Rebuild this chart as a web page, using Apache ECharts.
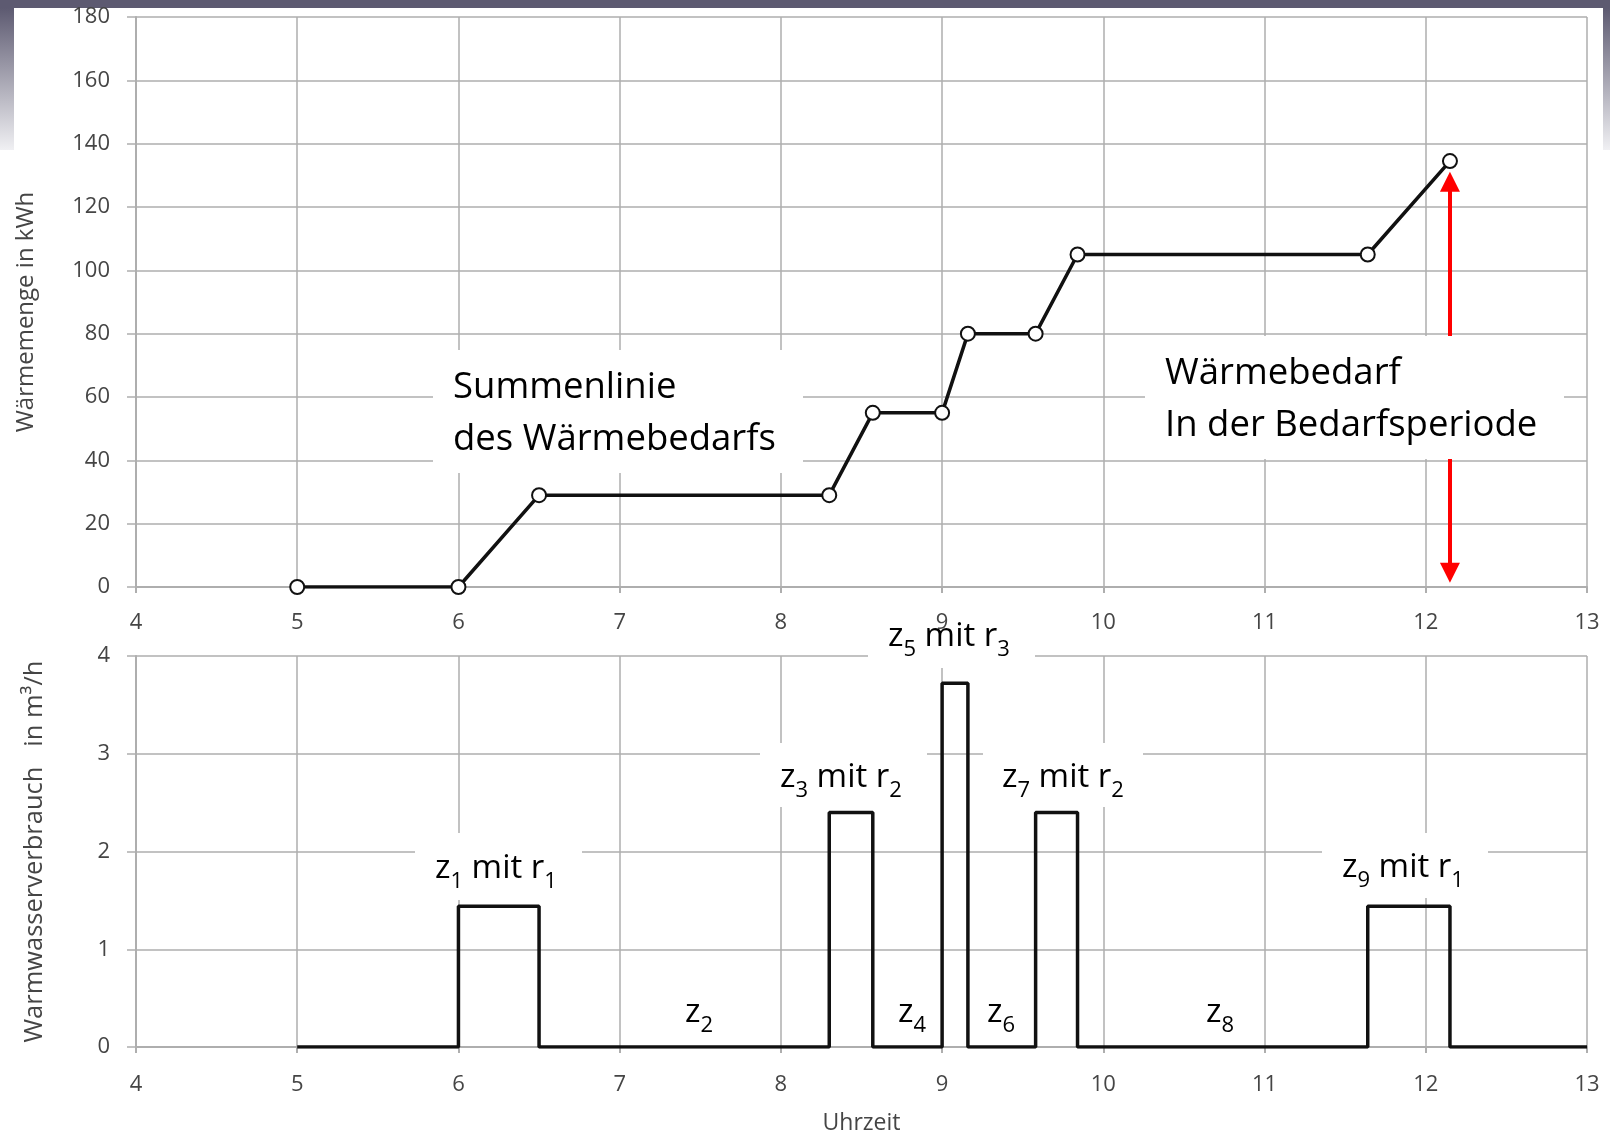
<!DOCTYPE html>
<html>
<head>
<meta charset="utf-8">
<script src="https://cdn.jsdelivr.net/npm/echarts@6/dist/echarts.min.js"></script>
<style>
html,body{margin:0;padding:0;background:#fff;}
#c{width:1610px;height:1136px;}
</style>
</head>
<body>
<div id="c"></div>
<script>
// ---- data ----
const timePoints = [5, 6, 6.5, 8.3, 8.57, 9.0, 9.16, 9.58, 9.84, 11.64, 12.15];   // Uhrzeit (h)
const heatSum    = [0, 0, 29, 29, 55, 55, 80, 80, 105, 105, 134.5];                // Wärmemenge in kWh
const stepTimes  = [5, 6, 6.5, 8.3, 8.57, 9.0, 9.16, 9.58, 9.84, 11.64, 12.15, 13]; // Beginn der Zeitabschnitte
const flowRates  = [0, 1.44, 0, 2.4, 0, 3.72, 0, 2.4, 0, 1.44, 0, 0];              // Warmwasserverbrauch m³/h
const xTicks = [4, 5, 6, 7, 8, 9, 10, 11, 12, 13];
const yTicksTop = [0, 20, 40, 60, 80, 100, 120, 140, 160, 180];
const yTicksBottom = [0, 1, 2, 3, 4];
const demandArrow = { time: 12.15, from: 4.5, to: 128 };

const FONT = 'Open Sans';
const GRAY = '#454545';
const GRID = '#aeaeae';

const heatData = timePoints.map((t, i) => [t, heatSum[i]]);
const flowData = stepTimes.map((t, i) => [t, flowRates[i]]);

function xAxisCfg(gridIndex, extra) {
  return Object.assign({
    type: 'value', gridIndex: gridIndex,
    min: xTicks[0], max: xTicks[xTicks.length - 1], interval: 1,
    axisLine: { show: true, lineStyle: { color: GRID, width: 2 } },
    axisTick: { show: true, length: 6, lineStyle: { color: GRID, width: 2 } },
    splitLine: { show: true, lineStyle: { color: GRID, width: 1.5 } },
    axisLabel: { color: GRAY, fontSize: 22, fontFamily: FONT, margin: 25 }
  }, extra || {});
}
function yAxisCfg(gridIndex, ticks, extra) {
  return Object.assign({
    type: 'value', gridIndex: gridIndex,
    min: ticks[0], max: ticks[ticks.length - 1], interval: ticks[1] - ticks[0],
    axisLine: { show: true, lineStyle: { color: GRID, width: 2 } },
    axisTick: { show: true, length: 9, lineStyle: { color: GRID, width: 1.5 } },
    splitLine: { show: true, lineStyle: { color: GRID, width: 1.5 } },
    axisLabel: { color: GRAY, fontSize: 22, fontFamily: FONT, margin: 26 },
    nameLocation: 'middle',
    nameTextStyle: { color: GRAY, fontSize: 23, fontFamily: FONT }
  }, extra || {});
}

const mainStyle = { fontSize: 33, fontFamily: FONT, fill: '#000', lineHeight: 40 };
const subStyle  = { fontSize: 22, fontFamily: FONT, fill: '#000', lineHeight: 40, height: 15, verticalAlign: 'bottom' };
function zLabel(x, y, txt) {
  return { type: 'text', x: x, y: y, z: 101,
    style: { text: txt, rich: { m: mainStyle, s: subStyle }, verticalAlign: 'top', align: 'left' } };
}
function whiteBox(x, y, w, h) {
  return { type: 'rect', z: 100, shape: { x: x, y: y, width: w, height: h }, style: { fill: '#fff' } };
}

const graphics = [
  // slide decoration
  { type: 'rect', z: 0, shape: { x: 0, y: 0, width: 1610, height: 8 }, style: { fill: '#5d5a71' } },
  { type: 'rect', z: 0, shape: { x: 0, y: 8, width: 14, height: 142 },
    style: { fill: new echarts.graphic.LinearGradient(0, 0, 0, 1, [{ offset: 0, color: '#5d5a71' }, { offset: 1, color: '#f0f0f3' }]) } },
  { type: 'rect', z: 0, shape: { x: 1603, y: 8, width: 7, height: 142 },
    style: { fill: new echarts.graphic.LinearGradient(0, 0, 0, 1, [{ offset: 0, color: '#5d5a71' }, { offset: 1, color: '#f0f0f3' }]) } },
  // annotation boxes
  whiteBox(433, 350, 370, 123),
  { type: 'text', x: 453, y: 362, z: 101,
    style: { text: 'Summenlinie\ndes Wärmebedarfs', fontSize: 36.5, fontFamily: FONT, fill: '#000', lineHeight: 52, verticalAlign: 'top' } },
  whiteBox(1145, 336, 419, 123),
  { type: 'text', x: 1165, y: 348, z: 101,
    style: { text: 'Wärmebedarf\nIn der Bedarfsperiode', fontSize: 36.5, fontFamily: FONT, fill: '#000', lineHeight: 52, verticalAlign: 'top' } },
  whiteBox(415, 833, 167, 67),
  zLabel(435, 849, '{m|z}{s|1}{m| mit r}{s|1}'),
  whiteBox(760, 743, 167, 64),
  zLabel(780, 758, '{m|z}{s|3}{m| mit r}{s|2}'),
  whiteBox(868, 634, 167, 34),
  zLabel(888, 617, '{m|z}{s|5}{m| mit r}{s|3}'),
  whiteBox(983, 743, 160, 64),
  zLabel(1002, 758, '{m|z}{s|7}{m| mit r}{s|2}'),
  whiteBox(1322, 833, 166, 65),
  zLabel(1342, 848, '{m|z}{s|9}{m| mit r}{s|1}'),
  zLabel(685, 993, '{m|z}{s|2}'),
  zLabel(898, 993, '{m|z}{s|4}'),
  zLabel(987, 993, '{m|z}{s|6}'),
  zLabel(1206, 993, '{m|z}{s|8}')
];

const chart = echarts.init(document.getElementById('c'), null, { renderer: 'canvas' });
chart.setOption({
  animation: false,
  backgroundColor: '#fff',
  grid: [
    { left: 136, top: 17, width: 1451, height: 570 },
    { left: 136, top: 656, width: 1451, height: 394 }
  ],
  xAxis: [
    xAxisCfg(0),
    xAxisCfg(1, { name: 'Uhrzeit', nameLocation: 'middle', nameGap: 65,
      nameTextStyle: { color: GRAY, fontSize: 23, fontFamily: FONT },
      axisLabel: { color: GRAY, fontSize: 22, fontFamily: FONT, margin: 27 } })
  ],
  yAxis: [
    yAxisCfg(0, yTicksTop, { name: 'Wärmemenge in kWh', nameGap: 98,
      nameTextStyle: { color: GRAY, fontSize: 24, fontFamily: FONT, padding: [0, 20, 0, 0] } }),
    yAxisCfg(1, yTicksBottom, { name: 'Warmwasserverbrauch   in m³/h', nameGap: 88,
      nameTextStyle: { color: GRAY, fontSize: 25.5, fontFamily: FONT } })
  ],
  series: [
    {
      type: 'line', xAxisIndex: 0, yAxisIndex: 0, data: heatData,
      symbol: 'circle', symbolSize: 14, showSymbol: true,
      lineStyle: { color: '#111', width: 3.5 },
      itemStyle: { color: '#fff', borderColor: '#111', borderWidth: 2 },
      z: 5,
      markLine: {
        silent: true, animation: false,
        symbol: ['triangle', 'triangle'], symbolSize: 20,
        lineStyle: { color: '#ff0000', width: 4, type: 'solid' },
        label: { show: false },
        data: [[{ coord: [demandArrow.time, demandArrow.from] }, { coord: [demandArrow.time, demandArrow.to] }]]
      }
    },
    {
      type: 'line', xAxisIndex: 1, yAxisIndex: 1, data: flowData,
      step: 'end', symbol: 'none', showSymbol: false,
      lineStyle: { color: '#111', width: 3.5 }, z: 5
    }
  ],
  graphic: graphics
});
</script>
</body>
</html>
